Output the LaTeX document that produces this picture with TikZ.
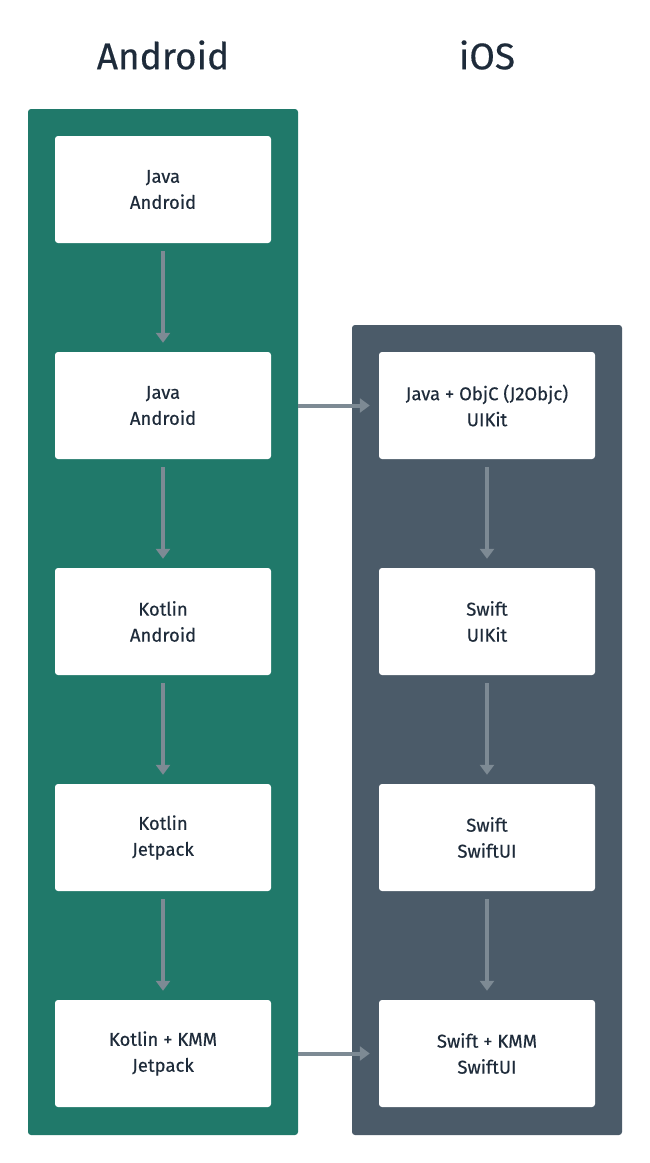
\documentclass[tikz,border=0pt]{standalone}
\usepackage{fontspec}
\setmainfont{Fira Sans}
\newfontfamily\labelfont{Fira Sans}[FakeBold=0.4]
\usetikzlibrary{arrows.meta}
\definecolor{droidgreen}{HTML}{20796A}
\definecolor{iosgray}{HTML}{4B5B69}
\definecolor{inkdark}{HTML}{1E2B3A}
\definecolor{arrowgray}{HTML}{7D8A94}
\tikzset{
  panel/.style={draw=none, rounded corners=3pt},
  techbox/.style={fill=white, draw=none, rounded corners=3pt, minimum width=216pt,
    minimum height=107pt, align=center, text=inkdark, font=\labelfont\fontsize{18.5}{26}\selectfont},
  coltitle/.style={text=inkdark, font=\labelfont\fontsize{37}{44}\selectfont},
  flow/.style={draw=arrowgray, line width=4pt, -{Triangle[width=14pt,length=10pt]}}
}
\begin{document}
\begin{tikzpicture}[x=1pt,y=-1pt]
\useasboundingbox (0,0) rectangle (650,1163);
% columns
\node[coltitle] (droidtitle) at (163,55) {Android};
\node[coltitle] (iostitle) at (487,55) {iOS};
\fill[droidgreen, panel] (28,109) rectangle (298,1135);
\fill[iosgray, panel] (352,325) rectangle (622,1135);
% android side
\node[techbox] (droid1) at (163,189.5) {Java\\Android};
\node[techbox] (droid2) at (163,405.5) {Java\\Android};
\node[techbox] (droid3) at (163,621.5) {Kotlin\\Android};
\node[techbox] (droid4) at (163,837.5) {Kotlin\\Jetpack};
\node[techbox] (droid5) at (163,1053.5) {Kotlin + KMM\\Jetpack};
% ios side
\node[techbox] (ios2) at (487,405.5) {Java + ObjC (J2Objc)\\UIKit};
\node[techbox] (ios3) at (487,621.5) {Swift\\UIKit};
\node[techbox] (ios4) at (487,837.5) {Swift\\SwiftUI};
\node[techbox] (ios5) at (487,1053.5) {Swift + KMM\\SwiftUI};
% arrows
\foreach \a/\b in {droid1/droid2, droid2/droid3, droid3/droid4, droid4/droid5, ios2/ios3, ios3/ios4, ios4/ios5}
  \draw[flow, shorten <=8pt, shorten >=9pt] (\a) -- (\b);
\draw[flow, shorten <=27pt, shorten >=9pt] (droid2) -- (ios2);
\draw[flow, shorten <=27pt, shorten >=9pt] (droid5) -- (ios5);
\end{tikzpicture}
\end{document}
